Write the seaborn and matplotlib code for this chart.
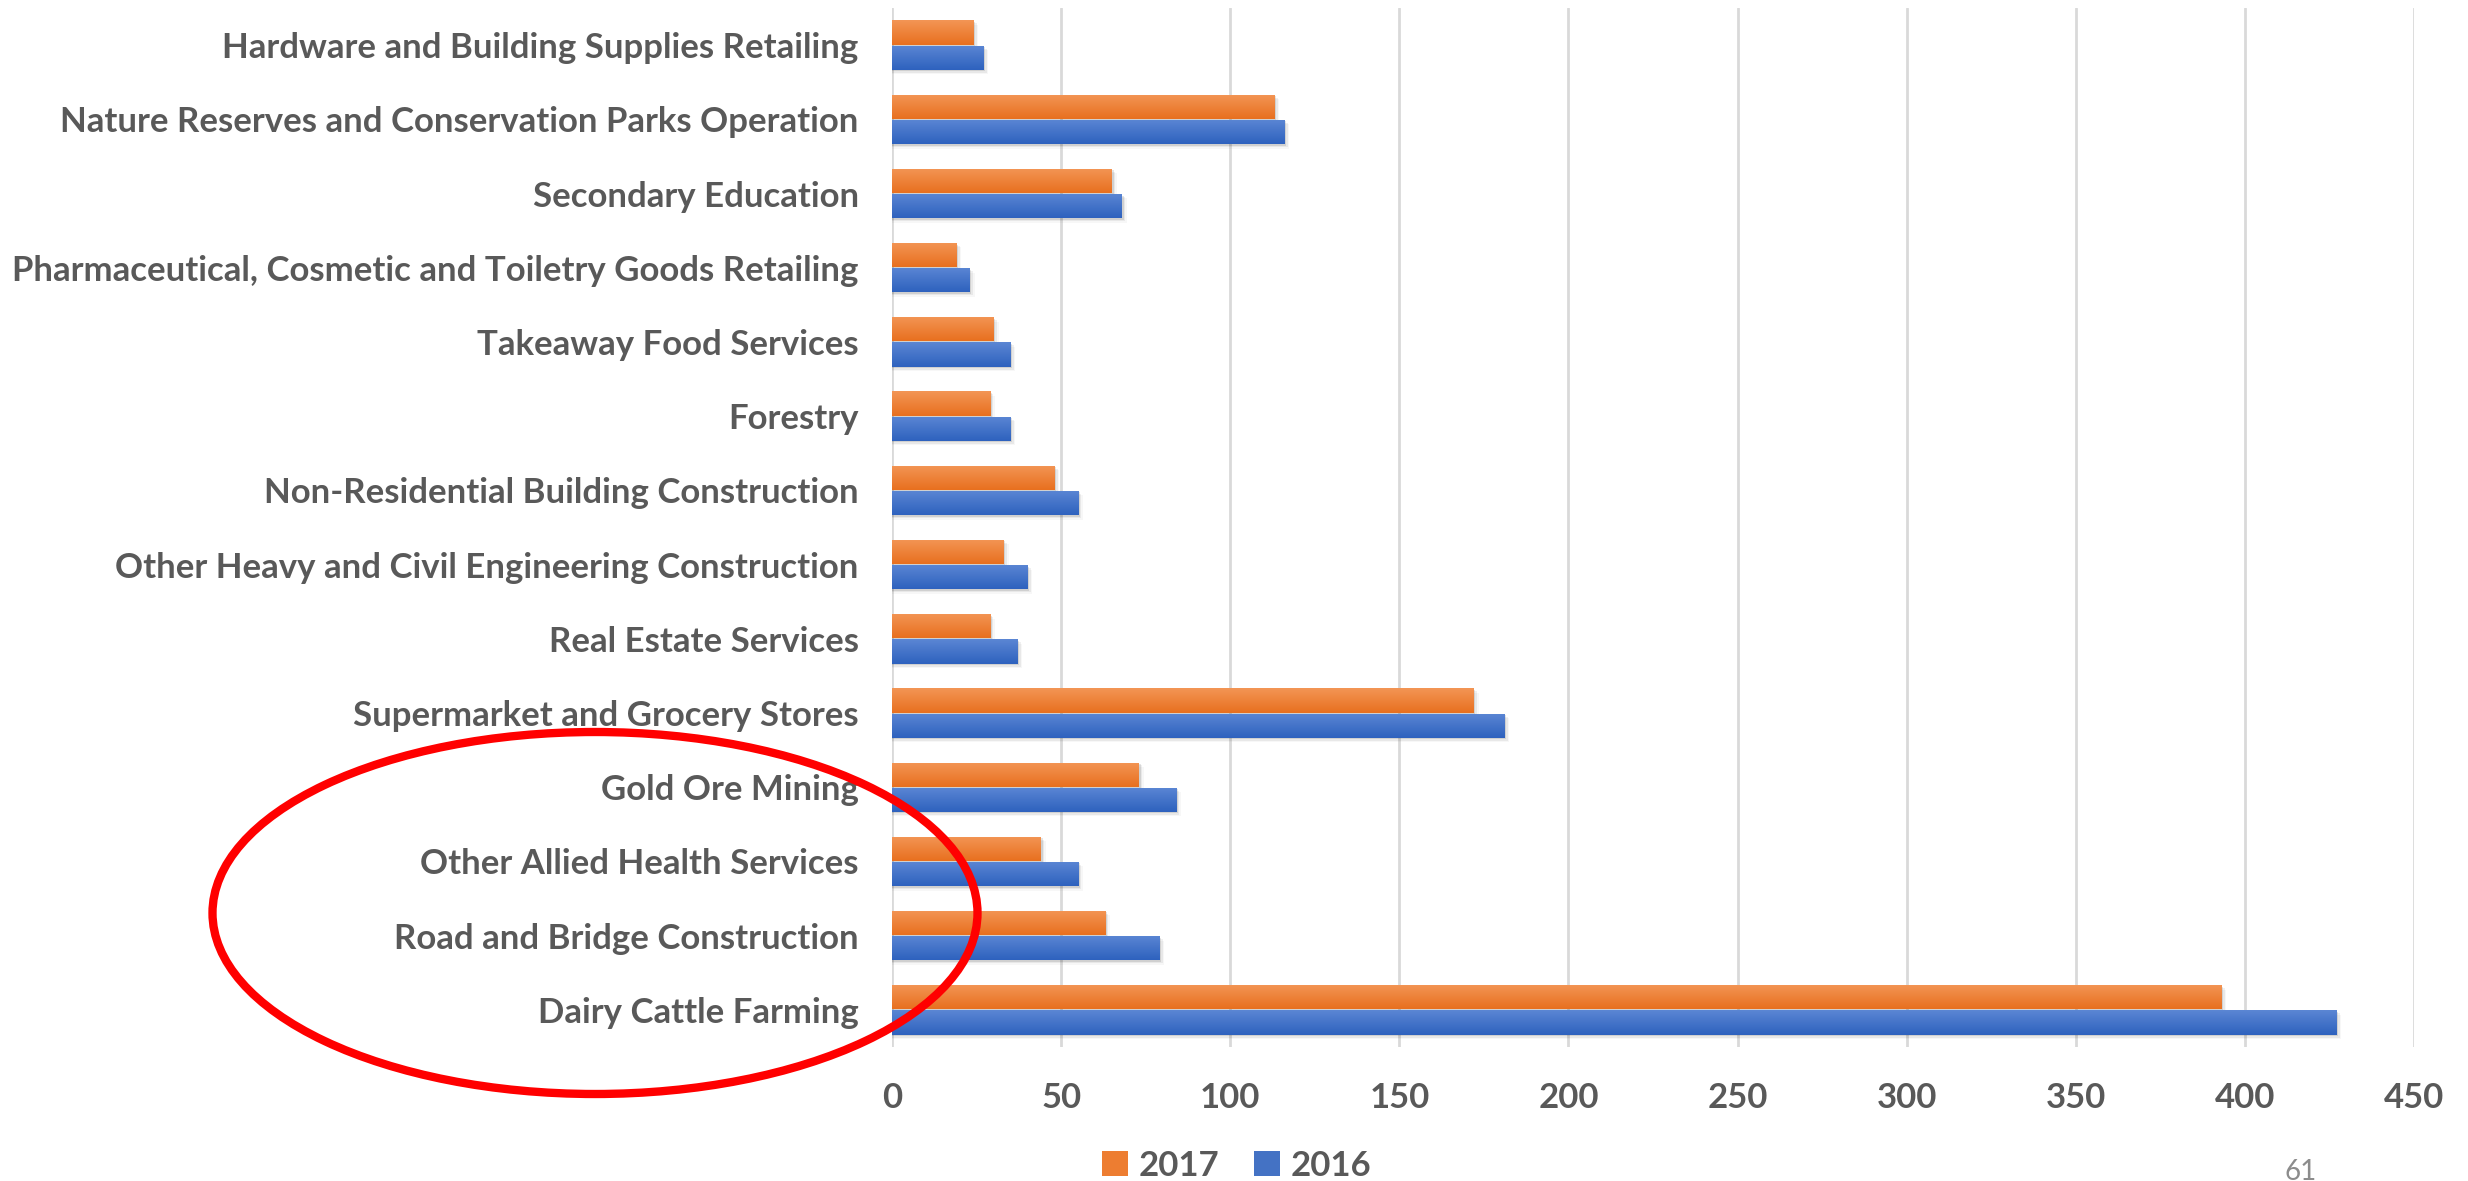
import numpy as np
import pandas as pd
import matplotlib.pyplot as plt
from matplotlib.patches import Ellipse
import seaborn as sns

industries = [
    "Hardware and Building Supplies Retailing",
    "Nature Reserves and Conservation Parks Operation",
    "Secondary Education",
    "Pharmaceutical, Cosmetic and Toiletry Goods Retailing",
    "Takeaway Food Services",
    "Forestry",
    "Non-Residential Building Construction",
    "Other Heavy and Civil Engineering Construction",
    "Real Estate Services",
    "Supermarket and Grocery Stores",
    "Gold Ore Mining",
    "Other Allied Health Services",
    "Road and Bridge Construction",
    "Dairy Cattle Farming",
]
values_2017 = [24, 113, 65, 19, 30, 29, 48, 33, 29, 172, 73, 44, 63, 393]
values_2016 = [27, 116, 68, 23, 35, 35, 55, 40, 37, 181, 84, 55, 79, 427]
years = ["2017", "2016"]
x_ticks = [0, 50, 100, 150, 200, 250, 300, 350, 400, 450]

df = pd.DataFrame({
    "industry": industries * 2,
    "year": [years[0]] * len(industries) + [years[1]] * len(industries),
    "value": values_2017 + values_2016,
})

sns.set_style("white")
plt.rcParams['font.family'] = ['Lato', 'DejaVu Sans']
text_col = '#595959'

fig = plt.figure(figsize=(24.68, 11.81), dpi=100)
ax = fig.add_axes([892 / 2468, 1 - 1047 / 1181, (2414 - 892) / 2468, (1047 - 8) / 1181])

sns.barplot(data=df, y="industry", x="value", hue="year", hue_order=years,
            order=industries, palette=['#ED7D31', '#4472C4'], saturation=1,
            orient='h', width=0.68, gap=0.04, linewidth=0, ax=ax, legend=True,
            zorder=3)

ax.set_xticks(x_ticks)
ax.grid(axis='x', color='#D9D9D9', linewidth=2, zorder=0)
ax.set_axisbelow(True)
for s in ax.spines.values():
    s.set_visible(False)
ax.set_xlabel("")
ax.set_ylabel("")
ax.tick_params(axis='x', length=0, labelsize=25, pad=25)
ax.tick_params(axis='y', length=0, labelsize=25, pad=24)
for lbl in ax.get_xticklabels() + ax.get_yticklabels():
    lbl.set_fontweight('bold')
    lbl.set_color(text_col)

# office-style vertical gradient on each bar
shades = {'#ED7D31': ('#F39555', '#E8701F'), '#4472C4': ('#5B86D4', '#2E62BE')}
for bar in list(ax.patches):
    fc = '#%02X%02X%02X' % tuple(int(round(c * 255)) for c in bar.get_facecolor()[:3])
    if fc not in shades:
        continue
    top, bot = shades[fc]
    cmap = sns.blend_palette([top, bot], as_cmap=True)
    x0, y0 = bar.get_x(), bar.get_y()
    w, h = bar.get_width(), bar.get_height()
    im = ax.imshow(np.linspace(0, 1, 64).reshape(-1, 1), cmap=cmap, aspect='auto',
                   extent=(x0, x0 + w, y0 + h, y0), zorder=3.5)
    im.set_clip_path(bar)
    # soft shadow under the bar
    for k, a in enumerate([0.10, 0.06, 0.03]):
        ax.add_patch(plt.Rectangle((x0, y0 + 0.02 * (k + 1)), w + 0.5 * (k + 1), h,
                                   color='#000000', alpha=a, zorder=2.9, linewidth=0))
ax.set_xlim(0, 450)
ax.set_ylim(13.5, -0.5)

ax.legend_.remove()
handles, labels = ax.get_legend_handles_labels()
leg = fig.legend(handles, labels, loc='center', bbox_to_anchor=(0.501, 0.013),
                 ncol=2, frameon=False, handlelength=0.75, handleheight=0.75,
                 handletextpad=0.3, columnspacing=1.0,
                 prop={'size': 25, 'weight': 'bold'})
for t in leg.get_texts():
    t.set_color(text_col)

# red annotation ellipse
fig.patches.append(Ellipse((595 / 2468, 1 - 913 / 1181), 765 / 2468, 362 / 1181,
                           transform=fig.transFigure, fill=False,
                           edgecolor='#FF0000', linewidth=6, zorder=10))

fig.text(2301 / 2468, 1 - 1172 / 1181, "61", fontsize=20, color='#8C8C8C',
         ha='center', va='center')

plt.savefig("out.png", dpi=100)
